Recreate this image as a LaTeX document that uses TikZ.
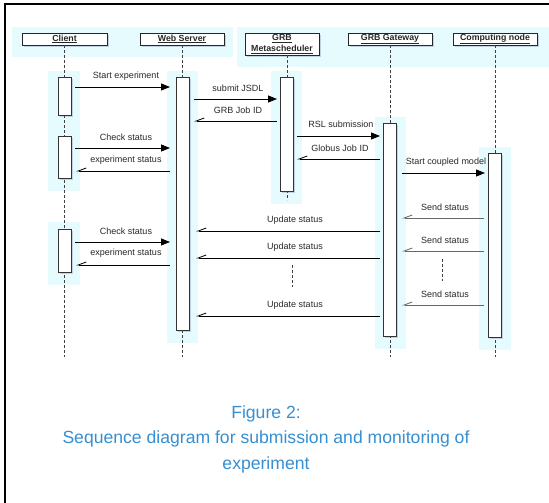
\documentclass[tikz,border=0pt]{standalone}
\usepackage{fontspec}
\setmainfont{Liberation Sans}
\usetikzlibrary{arrows.meta,shadows}
\definecolor{glow}{RGB}{229,251,253}
\definecolor{capblue}{RGB}{55,143,210}
\definecolor{shade}{RGB}{80,95,150}
\definecolor{txt}{RGB}{40,40,40}
\tikzset{
  boxshadow/.style={drop shadow={shadow xshift=1.6pt,shadow yshift=-2pt,fill=shade,opacity=.25},
                    drop shadow={shadow xshift=0.8pt,shadow yshift=-1pt,fill=shade,opacity=.3}},
  hdr/.style={boxshadow,draw=black!85,line width=0.9pt,fill=white,inner sep=0pt,
              font=\fontsize{8.8}{10.5}\selectfont\bfseries,text=txt,minimum height=12pt,align=center},
  act/.style={boxshadow,draw=black!80,line width=0.9pt,fill=white,minimum width=13pt,inner sep=0pt,anchor=north},
  life/.style={dash pattern=on 3pt off 2pt,line width=0.8pt,black!75},
  call/.style={line width=0.8pt,-{Triangle[length=9pt,width=7pt]}},
  ret/.style={line width=0.8pt,-{Straight Barb[harpoon,swap,length=8pt,width=6pt]}},
  retg/.style={ret,draw=black!60},
  lbl/.style={font=\fontsize{9}{10}\selectfont,text=txt,inner sep=0pt},
  capt/.style={font=\fontsize{17.6}{25.5}\selectfont,text=capblue,align=center,inner sep=0pt}
}
\begin{document}
\begin{tikzpicture}[x=1pt,y=-1pt]
\useasboundingbox (0,0) rectangle (549,503);
\fill[white] (0,0) rectangle (549,503);
\draw[line width=2pt] (5,503) -- (5,4) -- (549,4);
% header glows
\fill[glow] (12,27) rectangle (233,57);
\fill[glow] (237,27) rectangle (549,67);
% activation glows
\fill[glow] (48,71) rectangle (80,191);
\fill[glow] (48,222) rectangle (80,285);
\fill[glow] (167,71) rectangle (198,343);
\fill[glow] (271,71) rectangle (302,204);
\fill[glow] (375,117) rectangle (406,349);
\fill[glow] (479,147) rectangle (511,350);
% headers
\node[hdr,minimum width=85pt] (hc) at (64.5,39) {\underline{Client}};
\node[hdr,minimum width=84pt] (hw) at (182,39) {\underline{Web Server}};
\node[hdr,minimum width=74pt,minimum height=22pt] (hm) at (282,44) {\underline{GRB}\\\underline{Metascheduler}};
\node[hdr,minimum width=84pt] (hg) at (390,39) {\underline{GRB Gateway}};
\node[hdr,minimum width=84pt] (hn) at (495,39) {\underline{Computing node}};
% lifelines
\coordinate (lct) at (64.5,45); \coordinate (lcb) at (64.5,357);
\coordinate (lwt) at (182,45);  \coordinate (lwb) at (182,357);
\coordinate (lmt) at (287,55);  \coordinate (lmb) at (287,200);
\coordinate (lgt) at (390,45);  \coordinate (lgb) at (390,357);
\coordinate (lnt) at (495,45);  \coordinate (lnb) at (495,357);
\draw[life] (lct) -- (lcb);
\draw[life] (lwt) -- (lwb);
\draw[life] (lmt) -- (lmb);
\draw[life] (lgt) -- (lgb);
\draw[life] (lnt) -- (lnb);
% activation boxes
\node[act,minimum height=38pt] (c1) at (64.5,77) {};
\node[act,minimum height=42pt] (c2) at (64.5,136) {};
\node[act,minimum height=43pt] (c3) at (64.5,229) {};
\node[act,minimum height=253pt] (w1) at (182.5,77) {};
\node[act,minimum height=114pt] (m1) at (286.5,77) {};
\node[act,minimum height=213pt] (g1) at (390,123) {};
\node[act,minimum height=184pt] (n1) at (495,153) {};
% message end points
\coordinate (a1) at (75,87);   \coordinate (b1) at (170,87);
\coordinate (a2) at (194,99);  \coordinate (b2) at (277,99);
\coordinate (a3) at (277,121); \coordinate (b3) at (194,121);
\coordinate (a4) at (75,148);  \coordinate (b4) at (170,148);
\coordinate (a5) at (170,171); \coordinate (b5) at (76,171);
\coordinate (a6) at (297,136); \coordinate (b6) at (380,136);
\coordinate (a7) at (380,159); \coordinate (b7) at (297,159);
\coordinate (a8) at (402,173); \coordinate (b8) at (485,173);
\coordinate (a9) at (484,218); \coordinate (b9) at (402,218);
\coordinate (a10) at (380,231); \coordinate (b10) at (196,231);
\coordinate (a11) at (75,242);  \coordinate (b11) at (170,242);
\coordinate (a12) at (170,265); \coordinate (b12) at (76,265);
\coordinate (a13) at (484,251); \coordinate (b13) at (402,251);
\coordinate (a14) at (380,258); \coordinate (b14) at (196,258);
\coordinate (a15) at (484,305); \coordinate (b15) at (402,305);
\coordinate (a16) at (380,316); \coordinate (b16) at (196,316);
\draw[call] (a1) -- (b1);
\draw[call] (a2) -- (b2);
\draw[ret]  (a3) -- (b3);
\draw[call] (a4) -- (b4);
\draw[ret]  (a5) -- (b5);
\draw[call] (a6) -- (b6);
\draw[ret]  (a7) -- (b7);
\draw[call] (a8) -- (b8);
\draw[retg] (a9) -- (b9);
\draw[ret]  (a10) -- (b10);
\draw[call] (a11) -- (b11);
\draw[ret]  (a12) -- (b12);
\draw[retg] (a13) -- (b13);
\draw[ret]  (a14) -- (b14);
\draw[retg] (a15) -- (b15);
\draw[ret]  (a16) -- (b16);
% labels
\node[lbl] (t1) at (126,76) {Start experiment};
\node[lbl] (t2) at (238,88) {submit JSDL};
\node[lbl] (t3) at (238,110) {GRB Job ID};
\node[lbl] (t4) at (126,137) {Check status};
\node[lbl] (t5) at (126,160) {experiment status};
\node[lbl] (t6) at (341,124) {RSL submission};
\node[lbl] (t7) at (340,148) {Globus Job ID};
\node[lbl] (t8) at (446,162) {Start coupled model};
\node[lbl] (t9) at (445,207) {Send status};
\node[lbl] (t10) at (295,220) {Update status};
\node[lbl] (t11) at (126,231) {Check status};
\node[lbl] (t12) at (126,253) {experiment status};
\node[lbl] (t13) at (445,240) {Send status};
\node[lbl] (t14) at (295,247) {Update status};
\node[lbl] (t15) at (445,294) {Send status};
\node[lbl] (t16) at (295,305) {Update status};
% ellipsis marks
\coordinate (e1a) at (442,259); \coordinate (e1b) at (442,281);
\coordinate (e2a) at (292,265); \coordinate (e2b) at (292,287);
\draw[life] (e1a) -- (e1b);
\draw[life] (e2a) -- (e2b);
% caption
\node[capt] (cap) at (266,439) {Figure 2:\\Sequence diagram for submission and monitoring of\\experiment};
\end{tikzpicture}
\end{document}
